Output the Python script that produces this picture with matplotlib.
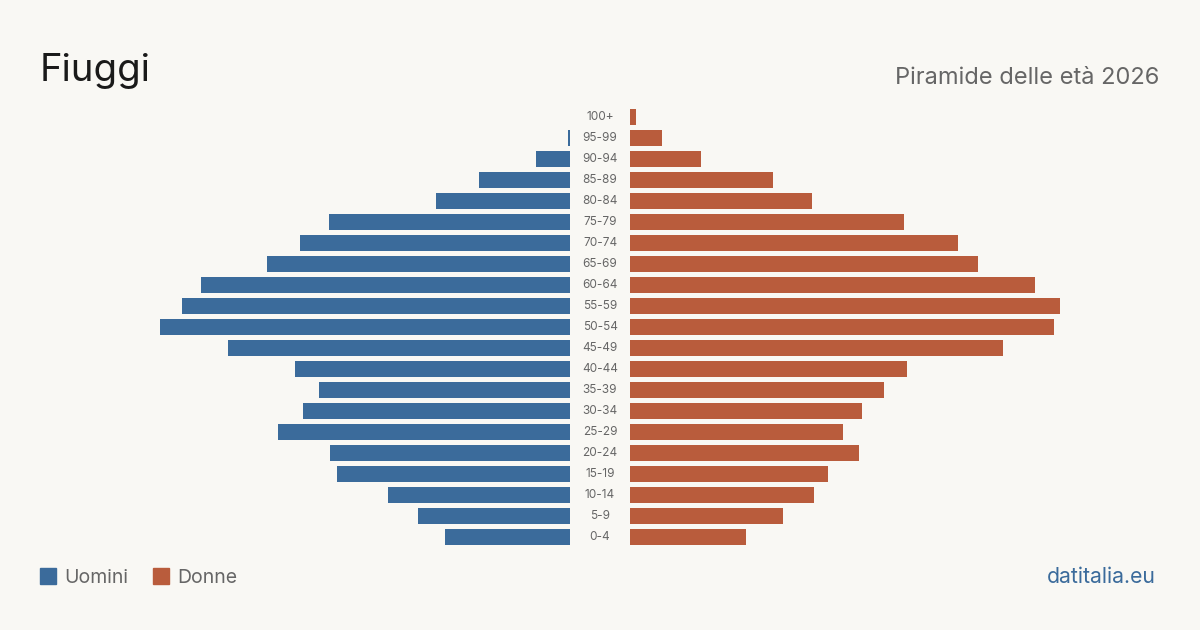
import matplotlib.pyplot as plt
from matplotlib.patches import Rectangle

# classi di età (dal basso verso l'alto)
eta = ['0-4', '5-9', '10-14', '15-19', '20-24', '25-29', '30-34', '35-39',
       '40-44', '45-49', '50-54', '55-59', '60-64', '65-69', '70-74',
       '75-79', '80-84', '85-89', '90-94', '95-99', '100+']
uomini = [125, 152, 182, 233, 240, 292, 267, 251, 275, 342, 410, 388,
          369, 303, 270, 241, 134, 91, 34, 2, 0]
donne = [116, 153, 184, 198, 229, 213, 232, 254, 277, 373, 424, 430,
         405, 348, 328, 274, 182, 143, 71, 32, 6]

BG = '#f9f8f4'
BLU = '#3b6b9b'
ROSSO = '#b95c3c'
GRIGIO = '#666666'

plt.rcParams['font.family'] = ['Inter', 'DejaVu Sans']

fig = plt.figure(figsize=(12, 6.3), dpi=100, facecolor=BG)
ax = fig.add_axes([0, (630 - 547.5) / 630, 1, 441 / 630])
ax.set_facecolor(BG)

gap = 30
y = list(range(len(eta)))
ax.barh(y, [-v for v in uomini], left=-gap, height=0.8, color=BLU)
ax.barh(y, donne, left=gap, height=0.8, color=ROSSO)
for i, lab in enumerate(eta):
    ax.text(0, i, lab, ha='center', va='center', fontsize=8.5, color=GRIGIO)

ax.set_xlim(-600, 600)
ax.set_ylim(-0.5, len(eta) - 0.5)
ax.axis('off')

fig.text(40 / 1200, 1 - 81 / 630, 'Fiuggi', fontsize=27.5, color='#1a1a1a',
         ha='left', va='baseline')
fig.text(1159 / 1200, 1 - 84 / 630, 'Piramide delle età 2026', fontsize=17,
         color=GRIGIO, ha='right', va='baseline')

# legenda
for x0, col, lab in [(40, BLU, 'Uomini'), (153, ROSSO, 'Donne')]:
    fig.patches.append(Rectangle((x0 / 1200, 1 - 584 / 630), 16 / 1200, 16 / 630,
                                 transform=fig.transFigure, color=col))
    fig.text((x0 + 24) / 1200, 1 - 583 / 630, lab, fontsize=14, color=GRIGIO,
             ha='left', va='baseline')

fig.text(1156 / 1200, 1 - 583 / 630, 'datitalia.eu', fontsize=15.3, color=BLU,
         ha='right', va='baseline')

fig.savefig('out.png', dpi=100, facecolor=BG)
